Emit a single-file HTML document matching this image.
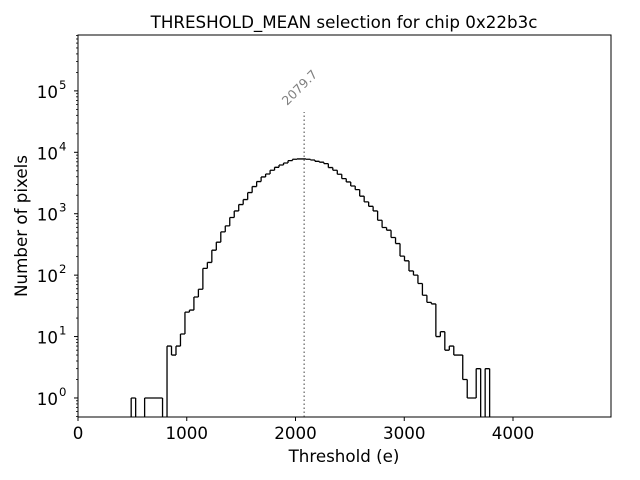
<!DOCTYPE html>
<html><head><meta charset="utf-8"><style>
body{margin:0;background:#fff;}
svg{display:block;font-family:"DejaVu Sans","Liberation Sans",sans-serif;}
</style></head><body>
<svg id="chart" width="640" height="480">
<text x="344" y="28" font-size="16.7" text-anchor="middle">THRESHOLD_MEAN selection for chip 0x22b3c</text>
<text x="344" y="462" font-size="16.7" text-anchor="middle">Threshold (e)</text>
<text x="27" y="226" font-size="16.7" text-anchor="middle" transform="rotate(-90 27 226)">Number of pixels</text>
<g id="plot"></g>
</svg>
<script>
const binStart = 489;
const binWidth = 41.2;
const counts = [1,0,0,1,1,1,1,0,
7,5,7,11,25,27,44,59,129,161,255,344,506,634,867,1110,1410,1700,2210,2770,3340,3970,4440,5100,5700,6220,6700,7330,7700,7800,7800,7700,
7500,7140,6900,6550,5640,5100,4390,3730,3290,2830,2470,1930,1560,1320,1110,784,596,539,410,327,204,171,117,100,73,47,36,34,10,12,6,7,5,5,2,1,1,3,0,3];
const meanValue = 2079.7;
const xTicks = [0,1000,2000,3000,4000];
const yTickExps = [0,1,2,3,4,5];

const L=78,R=611,T=35,B=417;
const xMin=0,xMax=4901,yMinLog=Math.log10(0.49),yMaxLog=5.91;
function X(v){return L+(v-xMin)/(xMax-xMin)*(R-L);}
function Y(v){return B-(Math.log10(v)-yMinLog)/(yMaxLog-yMinLog)*(B-T);}
const NS="http://www.w3.org/2000/svg";
const g=document.getElementById('plot');
function mk(t,a,p){const e=document.createElementNS(NS,t);for(const k in a)e.setAttribute(k,a[k]);(p||g).appendChild(e);return e;}

let d="";
let prev=0;
for(let i=0;i<counts.length;i++){
  const x0=X(binStart+i*binWidth),x1=X(binStart+(i+1)*binWidth);
  const c=counts[i];
  const y=c>0?Y(c):B;
  if(c>0||prev>0){ d+=`M${x0},${prev>0?Y(prev):B}L${x0},${y}`; }
  if(c>0) d+=`M${x0},${y}L${x1},${y}`;
  prev=c;
}
if(prev>0){const xe=X(binStart+counts.length*binWidth);d+=`M${xe},${Y(prev)}L${xe},${B}`;}
const hist=mk('path',{d:d,fill:'none',stroke:'#000','stroke-width':1.3});



const mx=X(meanValue);
const ml=mk('line',{x1:mx,x2:mx,y1:B,y2:112,stroke:'#808080','stroke-width':1.5,'stroke-dasharray':'1.5,2.5'});


const mt=mk('text',{x:mx-17,y:106,'font-size':12.5,fill:'#808080',transform:`rotate(-45 ${mx-17} 106)`});
mt.textContent=meanValue.toFixed(1);



const fr=mk('rect',{x:L,y:T,width:R-L,height:B-T,fill:'none',stroke:'#000','stroke-width':1});



xTicks.forEach(v=>{
  const x=X(v);
  mk('line',{x1:x,x2:x,y1:B,y2:B+4,stroke:'#000'});
  const t=mk('text',{x:x,y:B+22,'font-size':16.7,'text-anchor':'middle'});
  t.textContent=v;
  
  
});
yTickExps.forEach(e=>{
  const y=Y(Math.pow(10,e));
  mk('line',{x1:L-4,x2:L,y1:y,y2:y,stroke:'#000'});
  const t=mk('text',{x:L-20,y:y+7,'font-size':16.7,'text-anchor':'end'});
  t.textContent='10';
  
  
  const s=mk('text',{x:L-19,y:y-2,'font-size':11.7});
  s.textContent=e;
});
for(let e=-1;e<=5;e++){for(let m=2;m<=9;m++){const v=m*Math.pow(10,e);const y=Y(v);if(y<T||y>B)continue;mk('line',{x1:L-2,x2:L,y1:y,y2:y,stroke:'#000','stroke-width':0.8});}}
</script>
</body></html>
